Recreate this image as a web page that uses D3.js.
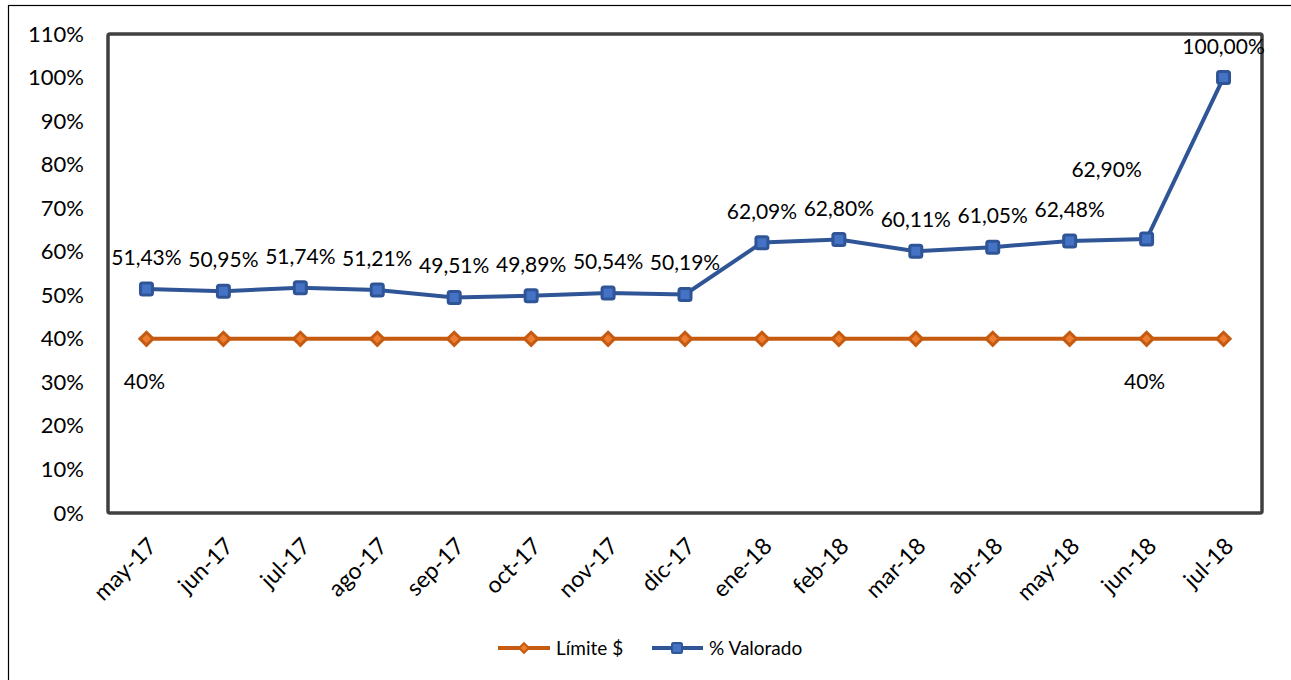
<!DOCTYPE html>
<html>
<head>
<meta charset="utf-8">
<script src="https://cdn.jsdelivr.net/npm/d3@7"></script>
<style>
  body { margin: 0; background: #fff; }
  svg { display: block; font-family: Lato, "Open Sans", sans-serif; }
</style>
</head>
<body>
<svg id="chart" width="1291" height="680"></svg>
<script>
// chart data
var months = ["may-17", "jun-17", "jul-17", "ago-17", "sep-17", "oct-17", "nov-17", "dic-17",
              "ene-18", "feb-18", "mar-18", "abr-18", "may-18", "jun-18", "jul-18"];
var valorado = [51.43, 50.95, 51.74, 51.21, 49.51, 49.89, 50.54, 50.19,
                62.09, 62.80, 60.11, 61.05, 62.48, 62.90, 100.00];
var limite = [40, 40, 40, 40, 40, 40, 40, 40, 40, 40, 40, 40, 40, 40, 40];
var yTicks = [0, 10, 20, 30, 40, 50, 60, 70, 80, 90, 100, 110];
var limiteLabelIdx = [0, 13];

var svg = d3.select("#chart");
var margin = {left: 108, top: 34, right: 1262, bottom: 513};

var x = d3.scaleBand().domain(months).range([margin.left, margin.right]);
var y = d3.scaleLinear().domain([0, 110]).range([margin.bottom, margin.top]);
var cx = function(d, i) { return x(months[i]) + x.bandwidth() / 2; };
var fmt = function(v) { return v.toFixed(2).replace(".", ",") + "%"; };

// outer border
svg.append("rect")
    .attr("x", 8.5).attr("y", 5.5).attr("width", 1300).attr("height", 700)
    .style("fill", "none").style("stroke", "#000").style("stroke-width", 1.2);

// plot frame
svg.append("rect")
    .attr("x", margin.left).attr("y", margin.top)
    .attr("width", margin.right - margin.left).attr("height", margin.bottom - margin.top)
    .attr("rx", 2)
    .style("fill", "none").style("stroke", "#404040").style("stroke-width", 3.5);

// y axis
var yAxis = svg.append("g")
    .attr("transform", "translate(" + (margin.left - 21) + ",0)")
    .call(d3.axisLeft(y).tickValues(yTicks).tickSize(0).tickFormat(function(d) { return d + "%"; }));
yAxis.select(".domain").remove();
yAxis.selectAll("text").style("font-size", "22px").style("fill", "#000").style("font-family", "Lato, sans-serif");

// x axis
var xAxis = svg.append("g")
    .attr("transform", "translate(0," + (margin.bottom + 28) + ")")
    .call(d3.axisBottom(x).tickSize(0).tickPadding(0));
xAxis.select(".domain").remove();
xAxis.selectAll("text")
    .style("font-size", "23px").style("fill", "#000").style("font-family", "Lato, sans-serif")
    .style("text-anchor", "end")
    .attr("dx", "0.15em").attr("dy", "0.55em")
    .attr("transform", "rotate(-45)");

var line = d3.line().x(cx).y(function(d) { return y(d); });

// Limite series
svg.append("path").datum(limite)
    .attr("d", line)
    .style("fill", "none").style("stroke", "#C55A11").style("stroke-width", 4);
svg.append("g").selectAll("path")
    .data(limite).enter().append("path")
    .attr("d", d3.symbol().type(d3.symbolDiamond2).size(110))
    .attr("transform", function(d, i) { return "translate(" + cx(d, i) + "," + y(d) + ")"; })
    .style("fill", "#ED7D31").style("stroke", "#C55A11").style("stroke-width", 3);

// Valorado series
svg.append("path").datum(valorado)
    .attr("d", line)
    .style("fill", "none").style("stroke", "#2F5597").style("stroke-width", 4);
svg.append("g").selectAll("rect")
    .data(valorado).enter().append("rect")
    .attr("x", function(d, i) { return cx(d, i) - 6; })
    .attr("y", function(d) { return y(d) - 6; })
    .attr("width", 12).attr("height", 12).attr("rx", 2)
    .style("fill", "#4472C4").style("stroke", "#2F5597").style("stroke-width", 3);

// data labels
svg.append("g").selectAll("text")
    .data(valorado).enter().append("text")
    .attr("x", function(d, i) {
        if (i == 13) return cx(d, i) - 40;
        return cx(d, i);
    })
    .attr("y", function(d, i) {
        if (i == 13) return y(d) - 62;
        return y(d) - 24;
    })
    .attr("text-anchor", "middle")
    .style("font-size", "21px").style("fill", "#000")
    .text(fmt);

svg.append("g").selectAll("text")
    .data(limiteLabelIdx).enter().append("text")
    .attr("x", function(i) { return cx(limite[i], i) - 2; })
    .attr("y", function(i) { return y(limite[i]) + 50; })
    .attr("text-anchor", "middle")
    .style("font-size", "21px").style("fill", "#000")
    .text(function(i) { return limite[i] + "%"; });

// legend
var legend = svg.append("g").attr("transform", "translate(0,648)");
legend.append("line").attr("x1", 498).attr("x2", 550)
    .style("stroke", "#C55A11").style("stroke-width", 4);
legend.append("path").attr("d", d3.symbol().type(d3.symbolDiamond2).size(60))
    .attr("transform", "translate(524,0)")
    .style("fill", "#ED7D31").style("stroke", "#C55A11").style("stroke-width", 2);
legend.append("text").attr("x", 556).attr("y", 7)
    .style("font-size", "19px").text("Límite $");
legend.append("line").attr("x1", 652).attr("x2", 703)
    .style("stroke", "#2F5597").style("stroke-width", 4);
legend.append("rect").attr("x", 672).attr("y", -5).attr("width", 10).attr("height", 10).attr("rx", 1.5)
    .style("fill", "#4472C4").style("stroke", "#2F5597").style("stroke-width", 2);
legend.append("text").attr("x", 709).attr("y", 7)
    .style("font-size", "19px").text("% Valorado");
</script>
</body>
</html>
